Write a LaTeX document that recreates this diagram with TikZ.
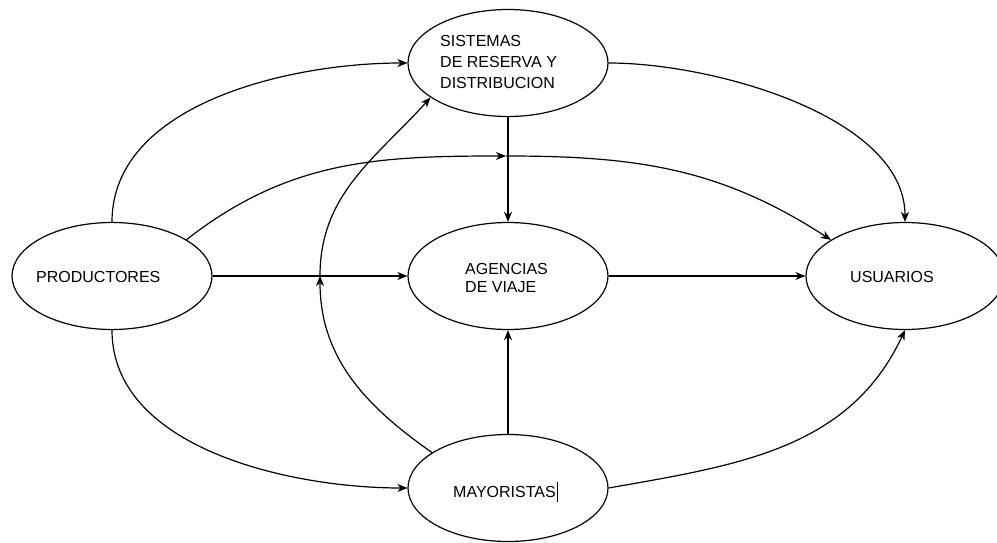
\documentclass[tikz,border=0pt]{standalone}
\usepackage{fontspec}
\setmainfont{Liberation Sans}
\usetikzlibrary{shapes.geometric,arrows.meta}
\begin{document}
\begin{tikzpicture}[x=1pt,y=1pt,
  ell/.style={draw, ellipse, line width=1.2pt, inner sep=0pt, minimum width=200pt, minimum height=107pt},
  lbl/.style={inner sep=0pt, font=\fontsize{16}{21}\selectfont, align=left},
  conn/.style={line width=1.2pt, -{Stealth[length=10pt,width=8pt,inset=3pt]}}]
\clip (0,0) rectangle (997,542);
% ellipses
\node[ell] (S) at (508,479) {};
\node[ell] (P) at (112,266) {};
\node[ell] (A) at (508,266) {};
\node[ell, minimum width=198pt] (U) at (905,266) {};
\node[ell] (M) at (508,54) {};
% texts
\node[lbl, anchor=north west] (tS) at (440,507) {SISTEMAS\\DE RESERVA Y\\DISTRIBUCION};
\node[lbl, anchor=base west] (tP) at (36,259) {PRODUCTORES};
\node[lbl, anchor=north west, font=\fontsize{16}{18}\selectfont] (tA) at (465,279) {AGENCIAS\\DE VIAJE};
\node[lbl, anchor=base west] (tU) at (850,259) {USUARIOS};
\node[lbl, anchor=base west] (tM) at (453,45) {MAYORISTAS\hspace{1.5pt}\rule[-5pt]{0.9pt}{20pt}};
% connectors
\coordinate (m1) at (506,386);
\coordinate (m2) at (320,266);
\draw[conn] (P.north) to[out=90,in=180,looseness=0.9] (S.west);
\draw[conn] (P.26) to[out=38,in=180] (m1);
\draw[conn] (m1) to[out=0,in=147] (U.154);
\draw[conn] (S.east) to[out=0,in=90,looseness=0.8] (U.north);
\draw[conn] (S.south) -- (A.north);
\draw[conn] (P.east) -- (A.west);
\draw[conn] (A.east) -- (U.west);
\draw[conn] (M.north) -- (A.south);
\draw[conn] (P.south) to[out=-90,in=180,looseness=0.9] (M.west);
\draw[conn] (M.east) to[out=10,in=-115] (U.south);
\draw[conn] (M.155) to[out=145,in=-90] (m2);
\draw[conn] (m2) to[out=90,in=228] (S.204);
\end{tikzpicture}
\end{document}
